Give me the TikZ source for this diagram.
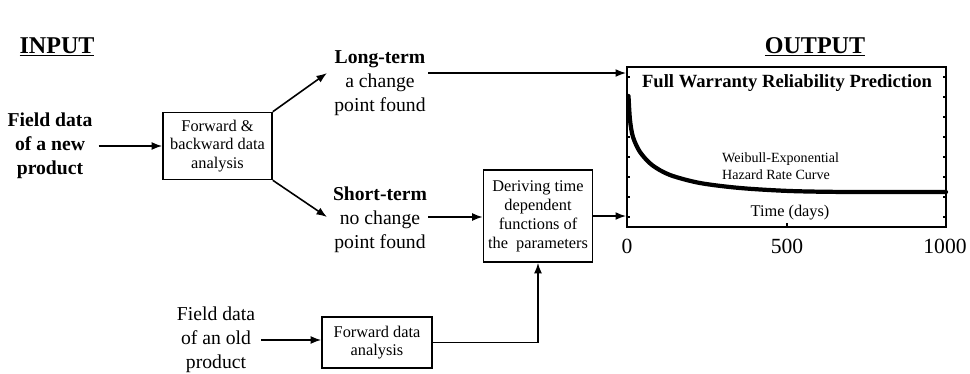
\documentclass[tikz,border=0pt]{standalone}
\usepackage{fontspec}
\setmainfont{Liberation Serif}
\usetikzlibrary{arrows.meta}

\tikzset{
  flow/.style={-{Latex[length=6pt,width=4.5pt]}, line width=0.9pt},
  procbox/.style={draw, line width=0.9pt, align=center, inner sep=1pt,
    font=\fontsize{9.3}{10.3}\selectfont},
  bigtxt/.style={align=center, font=\fontsize{11.2}{13.6}\selectfont},
  boldtxt/.style={align=center, font=\bfseries\fontsize{11.2}{13.6}\selectfont},
  headtxt/.style={font=\bfseries\fontsize{13.7}{16}\selectfont},
}

\begin{document}
\begin{tikzpicture}[x=0.02cm,y=-0.02cm]
  \useasboundingbox (0,0) rectangle (970,373);

  % headings
  \node[headtxt] (inhead) at (57,47) {\underline{INPUT}};
  \node[headtxt] (outhead) at (815,47) {\underline{OUTPUT}};

  % inputs and processing
  \node[boldtxt] (newdata) at (50,146) {Field data\\of a new\\product};
  \node[procbox, minimum width=2.18cm, minimum height=1.34cm] (fbwd) at (217.5,146)
    {Forward \&\\backward data\\analysis};
  \node[bigtxt] (longterm) at (380,83) {\textbf{Long-term}\\a change\\point found};
  \node[bigtxt] (shortterm) at (380,220) {\textbf{Short-term}\\no change\\point found};
  \node[procbox, font=\fontsize{9.3}{10.8}\selectfont,
    minimum width=2.18cm, minimum height=1.84cm] (derive) at (538,216)
    {Deriving time\\dependent\\functions of\\the~ parameters};
  \node[bigtxt] (olddata) at (216,340) {Field data\\of an old\\product};
  \node[procbox, minimum width=2.2cm, minimum height=1.02cm] (fwd) at (377,342.5)
    {Forward data\\analysis};

  % output chart
  \node[draw, line width=1.1pt, fill=white, minimum width=6.38cm, minimum height=3.2cm,
    inner sep=0pt] (chart) at (786.5,147) {};
  \foreach \y in {77,97,...,217} {
    \draw[line width=0.6pt] (chart.west |- 0,\y) -- ++(4,0);
    \draw[line width=0.6pt] (chart.east |- 0,\y) -- ++(-4,0);
  }
  \foreach \y in {87,107,...,207} {
    \draw[line width=0.5pt] (chart.west |- 0,\y) -- ++(2,0);
    \draw[line width=0.5pt] (chart.east |- 0,\y) -- ++(-2,0);
  }
  \draw[line width=0.6pt] (787,227) -- ++(0,-4);
  \draw[line width=2.4pt, line cap=round] plot[smooth] coordinates
    {(628.5,96) (630,120) (633,137) (640,152) (652,165) (670,175) (700,183)
     (740,188) (790,191) (850,192) (946,192)};
  \node[font=\bfseries\fontsize{10.6}{12}\selectfont] (title) at (787,83)
    {Full Warranty Reliability Prediction};
  \node[anchor=west, align=left, font=\fontsize{8}{9.6}\selectfont] (curvelbl) at (716,166.5)
    {Weibull-Exponential\\Hazard Rate Curve};
  \node[font=\fontsize{9.3}{11}\selectfont] (xlbl) at (790,213) {Time (days)};
  \node[font=\fontsize{12.3}{14}\selectfont] (t0) at (627,246) {0};
  \node[font=\fontsize{12.3}{14}\selectfont] (t500) at (787,246) {500};
  \node[font=\fontsize{12.3}{14}\selectfont] (t1000) at (945,246) {1000};

  % connectors
  \coordinate (ltin) at (327,73);
  \coordinate (stin) at (327,217);
  \coordinate (ltout) at (428,73);
  \coordinate (stout) at (428,217);
  \draw[flow] (newdata.east) -- (newdata.east -| fbwd.west);
  \draw[flow] (fbwd.north east) -- (ltin);
  \draw[flow] (fbwd.south east) -- (stin);
  \draw[flow] (ltout) -- (ltout -| chart.west);
  \draw[flow] (stout) -- (stout -| derive.west);
  \draw[flow] (derive.east) -- (derive.east -| chart.west);
  \draw[flow] (olddata.east) -- (olddata.east -| fwd.west);
  \draw[flow] (fwd.east) -| (derive.south);
\end{tikzpicture}
\end{document}
